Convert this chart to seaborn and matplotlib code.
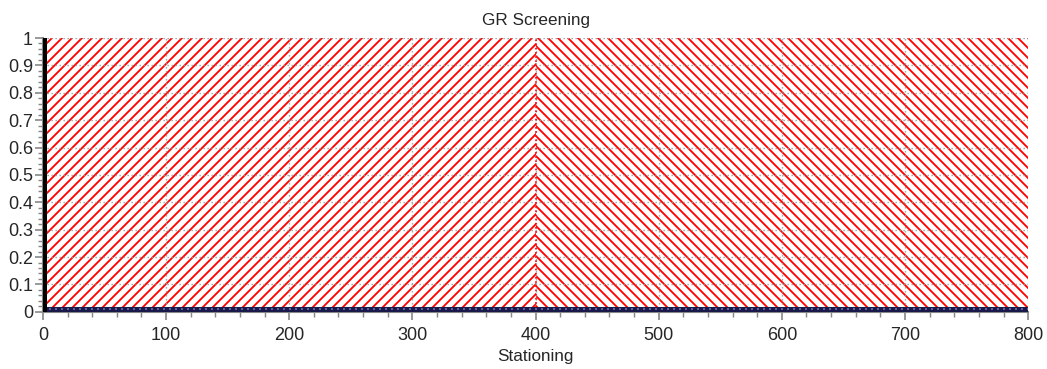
import matplotlib
matplotlib.use("Agg")
import matplotlib.pyplot as plt
from matplotlib.ticker import MultipleLocator, FuncFormatter
import pandas as pd
import seaborn as sns

sns.set_theme(style="white")
plt.rcParams['font.family'] = ['Liberation Sans', 'DejaVu Sans']
plt.rcParams['hatch.linewidth'] = 1.1

# screening segments (start, end, value, hatch)
seg_start = [0, 400]
seg_end = [400, 800]
seg_value = [1.0, 1.0]
seg_hatch = ['////', '\\\\\\\\']

# baseline trace along the bottom
base_station = [0, 800]
base_value = [0.01, 0.01]

# left marker at station 0
left_station = [0, 0]
left_value = [0, 1]

x_ticks = [0, 100, 200, 300, 400, 500, 600, 700, 800]
y_ticks = [0, 0.1, 0.2, 0.3, 0.4, 0.5, 0.6, 0.7, 0.8, 0.9, 1.0]

DPI = 120
fig, ax = plt.subplots(figsize=(1047 / DPI, 369 / DPI), dpi=DPI)
fig.subplots_adjust(left=0.041, right=0.982, top=0.897, bottom=0.155)

for s, e, v, h in zip(seg_start, seg_end, seg_value, seg_hatch):
    ax.fill_between([s, e], 0, v, facecolor="white", edgecolor="red",
                    hatch=h, linewidth=0, zorder=1)

ax.grid(True, which="major", linestyle=(0, (1, 2)), color="#999999",
        linewidth=0.8, zorder=2)
ax.axvline(400, color="red", linestyle=(0, (1, 1.5)), linewidth=1.0, zorder=3)
ax.set_axisbelow(False)

df_base = pd.DataFrame({"x": base_station, "y": base_value})
sns.lineplot(data=df_base, x="x", y="y", color="#1a1a4a", linewidth=3.0, ax=ax, zorder=4)
ax.plot(base_station, base_value, color="#6060a0", linestyle=(0, (1, 2)), linewidth=1.2, zorder=5)

df_left = pd.DataFrame({"x": left_station, "y": left_value})
sns.lineplot(data=df_left, x="x", y="y", color="black", linewidth=4.2,
             ax=ax, zorder=6, sort=False, estimator=None)

ax.set_xlim(0, 800)
ax.set_ylim(0, 1)
ax.set_xticks(x_ticks)
ax.set_yticks(y_ticks)
ax.xaxis.set_minor_locator(MultipleLocator(20))
ax.yaxis.set_minor_locator(MultipleLocator(0.02))
ax.yaxis.set_major_formatter(FuncFormatter(lambda v, p: f"{v:g}"))
ax.tick_params(which="both", direction="out", color="#888888", labelsize=10.8,
               bottom=True, left=True)
ax.tick_params(which="major", length=5, width=1.0)
ax.tick_params(which="minor", length=3, width=0.85)
ax.tick_params(axis="y", pad=1)
ax.tick_params(axis="x", pad=4)

for side in ["top", "right"]:
    ax.spines[side].set_visible(False)
for side in ["left", "bottom"]:
    ax.spines[side].set_color("#888888")

ax.set_title("GR Screening", fontsize=10.3, pad=8)
ax.set_xlabel("Stationing", fontsize=10.3, labelpad=3)
ax.set_ylabel("")

fig.savefig("out.png", dpi=DPI)
